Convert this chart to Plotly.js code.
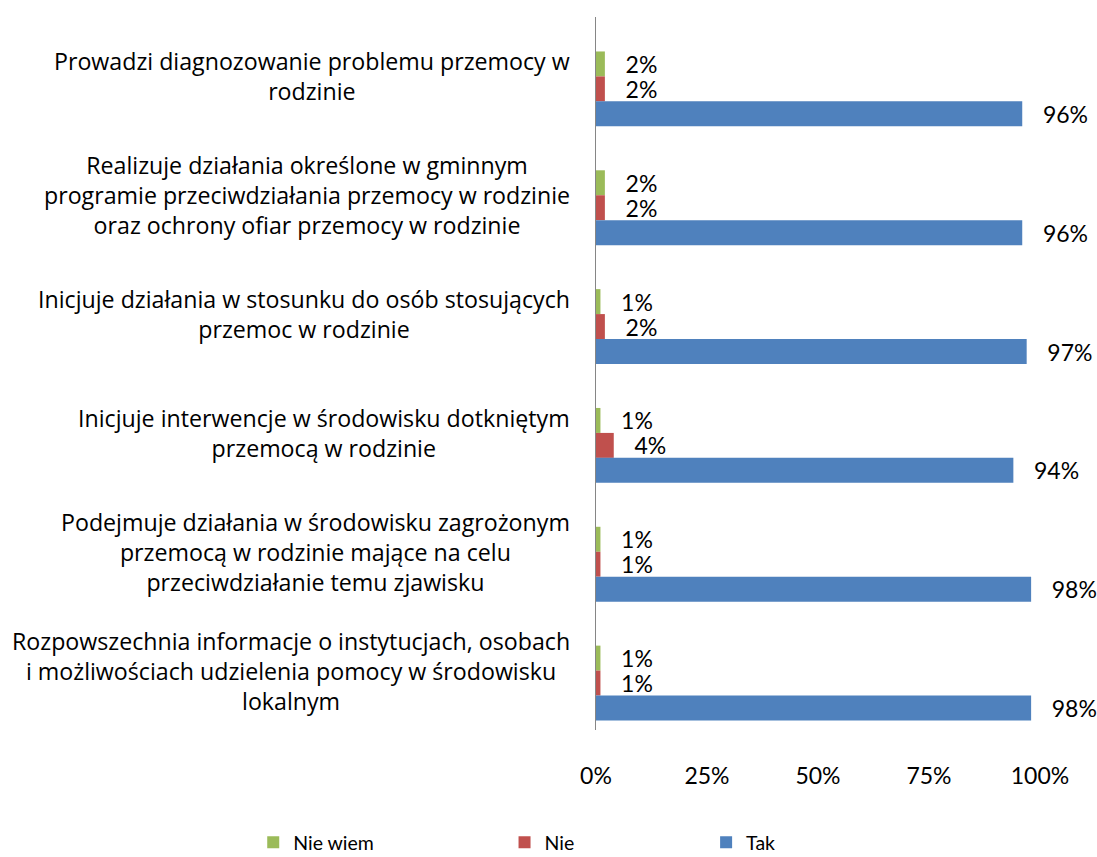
<!DOCTYPE html>
<html>
<head>
<meta charset="utf-8">
<script src="https://cdn.plot.ly/plotly-3.0.1.min.js"></script>
<style>html,body{margin:0;padding:0;background:#fff;}#chart{width:1097px;height:857px;}</style>
</head>
<body>
<div id="chart"></div>
<script>
const categories = [
  "Prowadzi diagnozowanie problemu przemocy w<br>rodzinie",
  "Realizuje działania określone w gminnym<br>programie przeciwdziałania przemocy w rodzinie<br>oraz ochrony ofiar przemocy w rodzinie",
  "Inicjuje działania w stosunku do osób stosujących<br>przemoc w rodzinie",
  "Inicjuje interwencje w środowisku dotkniętym<br>przemocą w rodzinie",
  "Podejmuje działania w środowisku zagrożonym<br>przemocą w rodzinie mające na celu<br>przeciwdziałanie temu zjawisku",
  "Rozpowszechnia informacje o instytucjach, osobach<br>i możliwościach udzielenia pomocy w środowisku<br>lokalnym"
];
const nieWiem = [2, 2, 1, 1, 1, 1];
const nie = [2, 2, 2, 4, 1, 1];
const tak = [96, 96, 97, 94, 98, 98];
const xTickVals = [0, 25, 50, 75, 100];
const xTickText = ["0%", "25%", "50%", "75%", "100%"];

const FONT = "Lato, 'Liberation Sans', sans-serif";
const CAT_FONT = "'Open Sans', Lato, sans-serif";
const FS = 23;
const catIdx = categories.map((_, i) => i);

function mk(name, vals, color, offset, legendId) {
  return {
    type: 'bar', orientation: 'h', name: name,
    y: catIdx, x: vals,
    marker: {color: color},
    width: 0.21, offset: offset,
    text: vals.map(v => '\u00a0\u00a0\u00a0' + v + '%'),
    textposition: 'outside', constraintext: 'none', cliponaxis: false,
    textfont: {family: FONT, size: FS, color: '#000'},
    hoverinfo: 'skip',
    legend: legendId
  };
}

const data = [
  mk('Nie wiem', nieWiem, '#9BBB59', -0.21, 'legend'),
  mk('Nie', nie, '#C0504D', 0.0, 'legend2'),
  mk('Tak', tak, '#4F81BD', 0.21, 'legend3')
];

const annotations = categories.map((c, i) => ({
  xref: 'paper', yref: 'y', x: 0, y: i, text: c,
  xanchor: 'right', yanchor: 'middle', align: 'center', showarrow: false,
  xshift: -24, font: {family: CAT_FONT, size: 23.2, color: '#000'}
}));

const legBase = {orientation: 'h', yref: 'paper', y: -0.158, yanchor: 'middle', xanchor: 'left',
  font: {family: FONT, size: 19.5, color: '#000'}, bgcolor: 'rgba(0,0,0,0)', borderwidth: 0};

const layout = {
  width: 1097, height: 857,
  margin: {l: 596, r: 57, t: 17, b: 127, autoexpand: false},
  paper_bgcolor: '#fff', plot_bgcolor: '#fff',
  font: {family: FONT, size: FS, color: '#000'},
  barmode: 'overlay',
  showlegend: true,
  xaxis: {range: [0, 100], tickvals: xTickVals, ticktext: xTickText, showgrid: false, zeroline: false,
    showline: false, ticks: '', ticklabelstandoff: 30, automargin: false,
    tickfont: {family: FONT, size: FS, color: '#000'}},
  yaxis: {type: 'linear', range: [5.5, -0.5], showticklabels: false, showgrid: false, zeroline: false,
    showline: true, linecolor: '#868686', linewidth: 1.5, ticks: '', automargin: false},
  legend: Object.assign({}, legBase, {x: -0.772}),
  legend2: Object.assign({}, legBase, {x: -0.206}),
  legend3: Object.assign({}, legBase, {x: 0.248}),
  annotations: annotations
};

Plotly.newPlot('chart', data, layout, {displayModeBar: false, staticPlot: true});
</script>
</body>
</html>
